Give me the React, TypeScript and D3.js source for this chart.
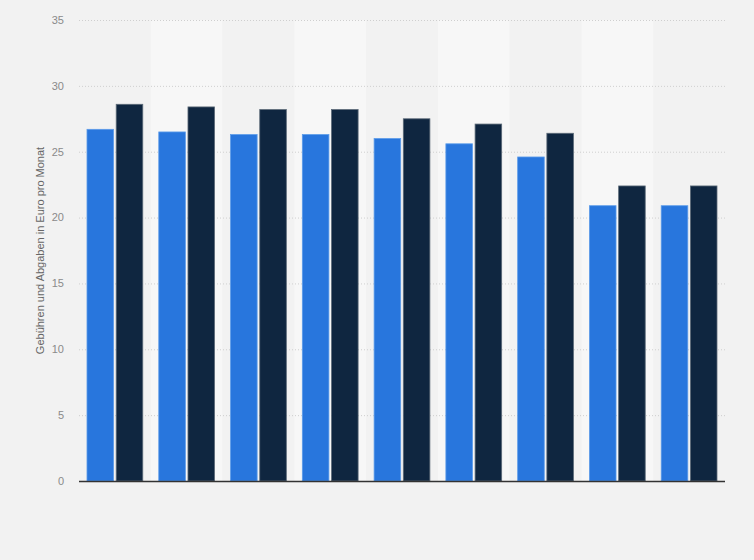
import { useEffect, useRef } from 'react';
import * as d3 from 'd3';

const groups = ['1', '2', '3', '4', '5', '6', '7', '8', '9'];
const seriesA = [26.7, 26.5, 26.3, 26.3, 26.0, 25.6, 24.6, 20.9, 20.9];
const seriesB = [28.6, 28.4, 28.2, 28.2, 27.5, 27.1, 26.4, 22.4, 22.4];
const yTicks = [0, 5, 10, 15, 20, 25, 30, 35];
const yLabel = 'Gebühren und Abgaben in Euro pro Monat';

const W = 754;
const H = 560;
const margin = { top: 20, right: 29, bottom: 79, left: 79 };

export default function App() {
  const svgRef = useRef<SVGSVGElement>(null);

  useEffect(() => {
    if (!svgRef.current) return;
    const svg = d3.select(svgRef.current);
    svg.selectAll('*').remove();

    const x0 = d3.scaleBand<string>()
      .domain(groups)
      .range([margin.left, W - margin.right]);
    const bw = x0.bandwidth();
    const x1 = d3.scaleBand<string>()
      .domain(['a', 'b'])
      .range([8, bw - 8])
      .paddingInner(0.09);
    const y = d3.scaleLinear()
      .domain([0, 35])
      .range([H - margin.bottom, margin.top]);

    svg.append('rect')
      .attr('width', W).attr('height', H)
      .attr('fill', '#f2f2f2');

    // alternating column bands
    svg.append('g')
      .selectAll('rect')
      .data(groups)
      .join('rect')
      .attr('x', d => x0(d)!)
      .attr('y', y(35))
      .attr('width', bw)
      .attr('height', y(0) - y(35))
      .attr('fill', (d, i) => (i % 2 === 1 ? '#f7f7f7' : '#f2f2f2'));

    // grid
    svg.append('g')
      .selectAll('line')
      .data(yTicks.filter(t => t > 0))
      .join('line')
      .attr('x1', margin.left)
      .attr('x2', W - margin.right)
      .attr('y1', d => y(d) + 0.5)
      .attr('y2', d => y(d) + 0.5)
      .attr('stroke', '#cfcfcf')
      .attr('stroke-dasharray', '1,2');

    // y tick labels
    svg.append('g')
      .selectAll('text')
      .data(yTicks)
      .join('text')
      .attr('x', 64)
      .attr('y', d => y(d))
      .attr('dy', '0.35em')
      .attr('text-anchor', 'end')
      .attr('font-family', '"Liberation Sans", Arial, sans-serif')
      .attr('font-size', 11)
      .attr('fill', '#8a8a8a')
      .text(d => d);

    // bars
    const data = groups.map((g, i) => ({ g, a: seriesA[i], b: seriesB[i] }));
    const gg = svg.append('g')
      .selectAll('g')
      .data(data)
      .join('g')
      .attr('transform', d => `translate(${x0(d.g)},0)`);

    gg.append('rect')
      .attr('x', x1('a')!)
      .attr('y', d => y(d.a))
      .attr('width', x1.bandwidth())
      .attr('height', d => y(0) - y(d.a))
      .attr('fill', '#2876dd')
      .attr('stroke', '#5b9be9')
      .attr('stroke-width', 0.8);

    gg.append('rect')
      .attr('x', x1('b')!)
      .attr('y', d => y(d.b))
      .attr('width', x1.bandwidth())
      .attr('height', d => y(0) - y(d.b))
      .attr('fill', '#0f2640')
      .attr('stroke', '#5c6a78')
      .attr('stroke-width', 0.8);

    // baseline
    svg.append('line')
      .attr('x1', margin.left)
      .attr('x2', W - margin.right)
      .attr('y1', y(0) + 0.5)
      .attr('y2', y(0) + 0.5)
      .attr('stroke', '#333')
      .attr('stroke-width', 1.5);

    // y axis title
    svg.append('text')
      .attr('transform', `translate(44,${(y(0) + y(35)) / 2}) rotate(-90)`)
      .attr('text-anchor', 'middle')
      .attr('font-family', '"Liberation Sans", Arial, sans-serif')
      .attr('font-size', 11)
      .attr('fill', '#666')
      .text(yLabel);
  }, []);

  return (
    <div style={{ position: 'fixed', left: 0, top: 0, width: W, height: H, background: '#f2f2f2' }}>
      <svg ref={svgRef} width={W} height={H} style={{ display: 'block' }} />
    </div>
  );
}
